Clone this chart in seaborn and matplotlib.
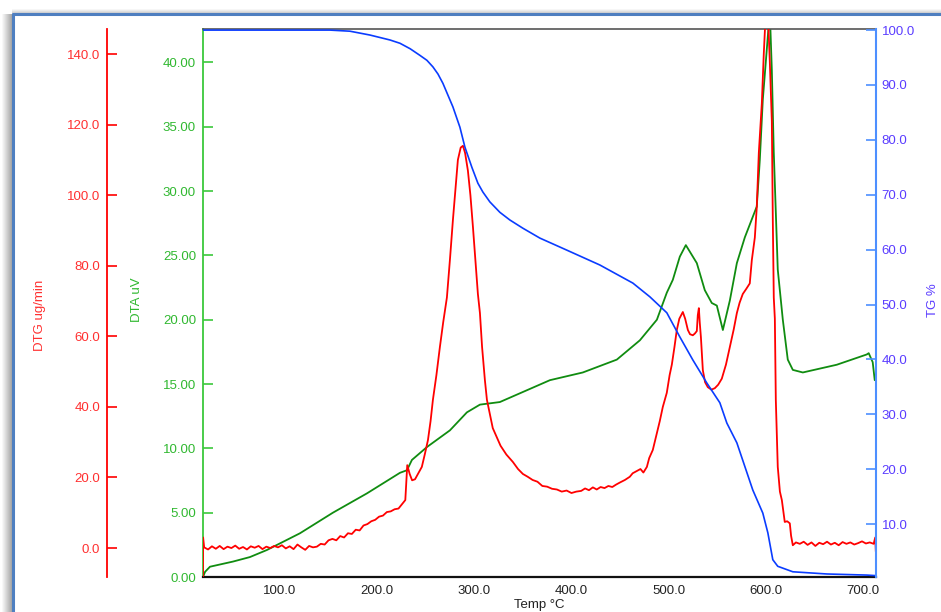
import matplotlib
matplotlib.use("Agg")
import matplotlib.pyplot as plt
import seaborn as sns
from matplotlib.ticker import FormatStrFormatter, FixedLocator
from matplotlib.lines import Line2D
from matplotlib.patches import Rectangle

# TG % (blue, right axis)
tg_temp = [20.8, 151.4, 172.0, 192.6, 213.2, 223.5, 234.0, 244.0, 251.2, 257.4,
           262.6, 267.7, 278.0, 285.2, 290.3, 297.5, 303.7, 308.8, 316.0, 326.3,
           336.6, 350.0, 367.5, 395.3, 429.2, 463.2, 480.7, 498.1, 511.5, 524.9,
           539.3, 552.7, 559.9, 570.2, 586.6, 596.9, 602.1, 607.2, 612.3, 627.8,
           662.8, 703.9, 713.2]
tg_val = [100.0, 100.0, 99.8, 99.1, 98.2, 97.6, 96.6, 95.4, 94.5, 93.3,
          92.0, 90.3, 86.0, 82.3, 78.7, 75.0, 72.1, 70.5, 68.7, 66.8,
          65.4, 63.9, 62.1, 59.9, 57.2, 53.9, 51.4, 48.5, 44.1, 39.9,
          35.7, 32.1, 28.4, 24.8, 16.2, 12.0, 8.4, 3.5, 2.3, 1.3,
          0.9, 0.7, 0.6]

# DTA uV (green, inner left axis)
dta_temp = [20.8, 22.9, 28.0, 51.7, 69.1, 86.6, 120.6, 154.5, 189.5, 223.5,
            230.7, 235.8, 251.2, 274.9, 292.4, 305.8, 326.3, 377.8, 411.7, 446.7,
            470.4, 487.9, 498.1, 504.3, 511.5, 517.7, 529.0, 537.2, 544.4, 549.6,
            555.8, 563.0, 570.2, 578.4, 586.6, 590.7, 593.8, 596.9, 601.0, 604.1,
            606.2, 608.2, 612.3, 617.5, 622.6, 627.8, 638.1, 673.0, 703.9, 705.9,
            710.0, 712.1]
dta_val = [0.0, 0.4, 0.8, 1.2, 1.55, 2.1, 3.4, 5.0, 6.5, 8.1,
           8.3, 9.1, 10.1, 11.4, 12.8, 13.4, 13.6, 15.3, 15.9, 16.9,
           18.4, 20.0, 22.1, 23.1, 24.9, 25.8, 24.4, 22.3, 21.3, 21.1,
           19.2, 21.5, 24.4, 26.4, 28.0, 28.8, 32.4, 37.1, 41.0, 44.0,
           39.4, 33.0, 23.9, 20.0, 16.9, 16.1, 15.9, 16.5, 17.3, 17.4,
           16.7, 15.3]

# DTG ug/min (red, outer left axis)
dtg_temp = [20.8, 20.9, 22, 26, 30, 34, 38, 42, 46, 50, 54, 58, 62, 66, 70, 74, 78,
            82, 86, 90, 94, 98, 102, 106, 110, 114, 118, 122, 126, 130, 134, 138,
            142, 146, 150, 154, 158, 162, 166, 170, 174, 178, 182, 186, 190, 194,
            198, 202, 206, 210, 214, 218, 222, 226, 229, 231, 233.5, 236, 239, 243,
            246, 249, 252.3, 255, 257.4, 261, 264.6, 268, 271.8, 275, 278, 283.1,
            286, 288.3, 290.5, 293.4, 296, 298.6, 301, 303.7, 305.8, 308, 310.9,
            313, 316, 319, 323, 327, 333, 339.7, 345, 350, 355, 360, 365, 370, 375,
            380, 385, 390, 395, 400, 405, 410, 414, 418, 422, 426, 430, 434, 438,
            442, 446, 450, 455, 460, 463, 467, 471, 474, 477.6, 480, 483.7, 487,
            490.9, 494, 498.1, 501, 503.3, 506, 508.4, 511, 514.6, 517, 519.8, 522,
            524.9, 527, 529.0, 530, 531.1, 532, 533.2, 535.2, 537.5, 540.3, 544,
            547.5, 551, 554.7, 559, 563, 567, 570.2, 573, 576.3, 580, 583.5, 585.6,
            588.7, 590.7, 592.8, 595.9, 597.9, 600.0, 602.1, 604.1, 606.2, 607.2,
            608.2, 609.3, 610.3, 612.3, 614.5, 616.5, 619.5, 622, 624.7, 626, 627.8,
            631, 635, 639, 643, 647, 651, 655, 659, 663, 667, 671, 675, 679, 683,
            687, 691, 695, 699, 703, 707, 711, 712.6, 713.2]
dtg_val = [-8.0, 3.0, 0.2, -0.4, 0.5, -0.2, 0.6, -0.3, 0.4, 0.0, 0.7, -0.2, 0.3, -0.4,
           0.5, 0.1, 0.6, -0.3, 0.4, 0.0, 0.6, 0.2, 0.8, -0.1, 0.5, -0.3, 1.0, 0.2,
           -0.5, 0.6, 0.2, 0.4, 1.2, 1.0, 2.2, 2.6, 2.2, 3.4, 3.0, 4.2, 4.0, 5.2,
           5.0, 6.4, 6.8, 7.6, 8.0, 8.9, 9.2, 10.2, 10.4, 11.0, 11.2, 12.6, 13.6,
           23.5, 21.0, 19.2, 19.5, 21.5, 23.0, 26.5, 30.6, 36.0, 42.0, 49.0, 57.0,
           64.0, 71.0, 82.0, 93.0, 110.0, 113.5, 114.0, 112.0, 107.0, 100.0, 91.0,
           82.0, 72.0, 66.6, 57.0, 47.6, 42.0, 38.0, 34.0, 31.5, 29.0, 26.5, 24.4,
           22.4, 21.0, 20.2, 19.3, 18.8, 17.6, 17.4, 16.8, 16.6, 16.0, 16.3, 15.6,
           16.0, 16.2, 16.9, 16.4, 17.2, 16.6, 17.3, 17.0, 17.6, 17.3, 18.0, 18.6,
           19.3, 20.2, 21.2, 21.8, 22.4, 21.4, 23.0, 25.5, 27.8, 31.5, 36.0, 40.0,
           44.0, 49.0, 52.0, 57.0, 61.8, 65.0, 66.9, 65.0, 61.8, 60.6, 60.3, 60.8,
           61.5, 66.0, 68.0, 64.0, 59.8, 50.4, 47.0, 45.6, 44.9, 45.3, 46.3, 48.0,
           52.0, 57.0, 62.0, 66.6, 69.5, 72.0, 73.5, 75.0, 81.6, 88.0, 96.6, 112.0,
           126.0, 140.0, 152.0, 152.0, 138.0, 121.0, 93.0, 71.0, 65.0, 42.0, 23.0,
           16.0, 13.6, 7.4, 7.6, 7.0, 3.5, 0.8, 1.6, 1.2, 1.8, 0.9, 1.6, 0.6, 1.5,
           1.1, 1.8, 1.0, 1.5, 0.8, 1.7, 1.2, 1.6, 1.0, 1.4, 1.9, 1.3, 1.6, 1.2,
           3.0, -1.0]

temp_ticks = [100, 200, 300, 400, 500, 600, 700]
dtg_ticks = [0, 20, 40, 60, 80, 100, 120, 140]
dta_ticks = [0, 5, 10, 15, 20, 25, 30, 35, 40]
tg_ticks = [10, 20, 30, 40, 50, 60, 70, 80, 90, 100]

sns.set_style("white")
plt.rcParams['font.family'] = ['Liberation Sans', 'DejaVu Sans']

W, H = 941, 612
fig = plt.figure(figsize=(W / 100, H / 100), dpi=100)

# window frame with shadow
for i in range(10):
    fig.add_artist(Rectangle(((2 + i) / W, 0), 1 / W, 1 - 14 / H,
                             transform=fig.transFigure, color='#808080',
                             alpha=0.05 + 0.07 * i, lw=0))
for i in range(4):
    fig.add_artist(Rectangle((12 / W, 1 - (10 + i) / H), 1 - 12 / W, 1 / H,
                             transform=fig.transFigure, color='#b0b0b0',
                             alpha=0.1 + 0.15 * i, lw=0))
fig.add_artist(Line2D([13 / W, 13 / W], [0, 1 - 14 / H], transform=fig.transFigure,
                      color='#4f7fc0', lw=2.2))
fig.add_artist(Line2D([13 / W, 1], [1 - 14 / H, 1 - 14 / H], transform=fig.transFigure,
                      color='#4f7fc0', lw=2.2))

ax = fig.add_axes([203 / W, 35 / H, 673 / W, 548 / H])
ax_dtg = ax.twinx()
ax_tg = ax.twinx()

green_line = '#108c10'
green_axis = '#3cc83c'
red = '#ff0000'
blue_line = '#0a3cff'
blue_axis = '#4d8fff'
blue_text = '#5a3cff'

sns.lineplot(x=dta_temp, y=dta_val, ax=ax, color=green_line, lw=1.3,
             sort=False, estimator=None)
sns.lineplot(x=dtg_temp, y=dtg_val, ax=ax_dtg, color=red, lw=1.3,
             sort=False, estimator=None)
sns.lineplot(x=tg_temp, y=tg_val, ax=ax_tg, color=blue_line, lw=1.2,
             sort=False, estimator=None)

ax.set_xlim(20.8, 713.4)
ax.set_ylim(0, 42.6)
ax_dtg.set_ylim(-8.2, 147.1)
ax_tg.set_ylim(0.35, 100.2)

fs = 9.5

# x axis
ax.xaxis.set_major_locator(FixedLocator(temp_ticks))
ax.xaxis.set_major_formatter(FormatStrFormatter('%.1f'))
ax.tick_params(axis='x', direction='in', length=7, width=1.2, color='#333333',
               labelcolor='#222222', labelsize=fs, pad=6)
ax.set_xlabel('Temp °C', fontsize=fs, color='#222222', labelpad=1)

# DTA (green)
ax.yaxis.set_major_locator(FixedLocator(dta_ticks))
ax.yaxis.set_major_formatter(FormatStrFormatter('%.2f'))
ax.tick_params(axis='y', direction='in', length=7, width=1.2, color=green_axis,
               labelcolor='#30b830', labelsize=fs, pad=5)
ax.set_ylabel('DTA uV', fontsize=fs, color='#30b830', va='center')
ax.yaxis.set_label_coords((137 - 203) / 673, (577 - 300) / 548)
ax.spines['left'].set_color(green_axis)
ax.spines['left'].set_linewidth(1.3)
ax.spines['bottom'].set_color('#111111')
ax.spines['bottom'].set_linewidth(1.6)
ax.spines['top'].set_color('#555555')
ax.spines['top'].set_linewidth(1.2)
ax.spines['right'].set_visible(False)

# DTG (red)
ax_dtg.yaxis.set_ticks_position('left')
ax_dtg.yaxis.set_label_position('left')
ax_dtg.spines['left'].set_position(('axes', (107 - 203) / 673))
ax_dtg.spines['left'].set_visible(True)
ax_dtg.spines['left'].set_color(red)
ax_dtg.spines['left'].set_linewidth(1.3)
for s in ['right', 'top', 'bottom']:
    ax_dtg.spines[s].set_visible(False)
ax_dtg.yaxis.set_major_locator(FixedLocator(dtg_ticks))
ax_dtg.yaxis.set_major_formatter(FormatStrFormatter('%.1f'))
ax_dtg.tick_params(axis='y', direction='in', length=7, width=1.2, color=red,
                   labelcolor='#ff3030', labelsize=fs, pad=5)
ax_dtg.set_ylabel('DTG ug/min', fontsize=fs, color='#ff3030', va='center')
ax_dtg.yaxis.set_label_coords((40 - 203) / 673, (577 - 315) / 548)

# TG (blue)
ax_tg.spines['right'].set_color(blue_axis)
ax_tg.spines['right'].set_linewidth(1.5)
for s in ['left', 'top', 'bottom']:
    ax_tg.spines[s].set_visible(False)
ax_tg.yaxis.set_major_locator(FixedLocator(tg_ticks))
ax_tg.yaxis.set_major_formatter(FormatStrFormatter('%.1f'))
ax_tg.tick_params(axis='y', direction='in', length=7, width=1.2, color=blue_axis,
                  labelcolor=blue_text, labelsize=fs, pad=4)
ax_tg.set_ylabel('TG %', fontsize=fs, color=blue_text, rotation=90, va='center')
ax_tg.yaxis.set_label_coords((933 - 203) / 673, (577 - 300) / 548)

fig.savefig('out.png', dpi=100)
